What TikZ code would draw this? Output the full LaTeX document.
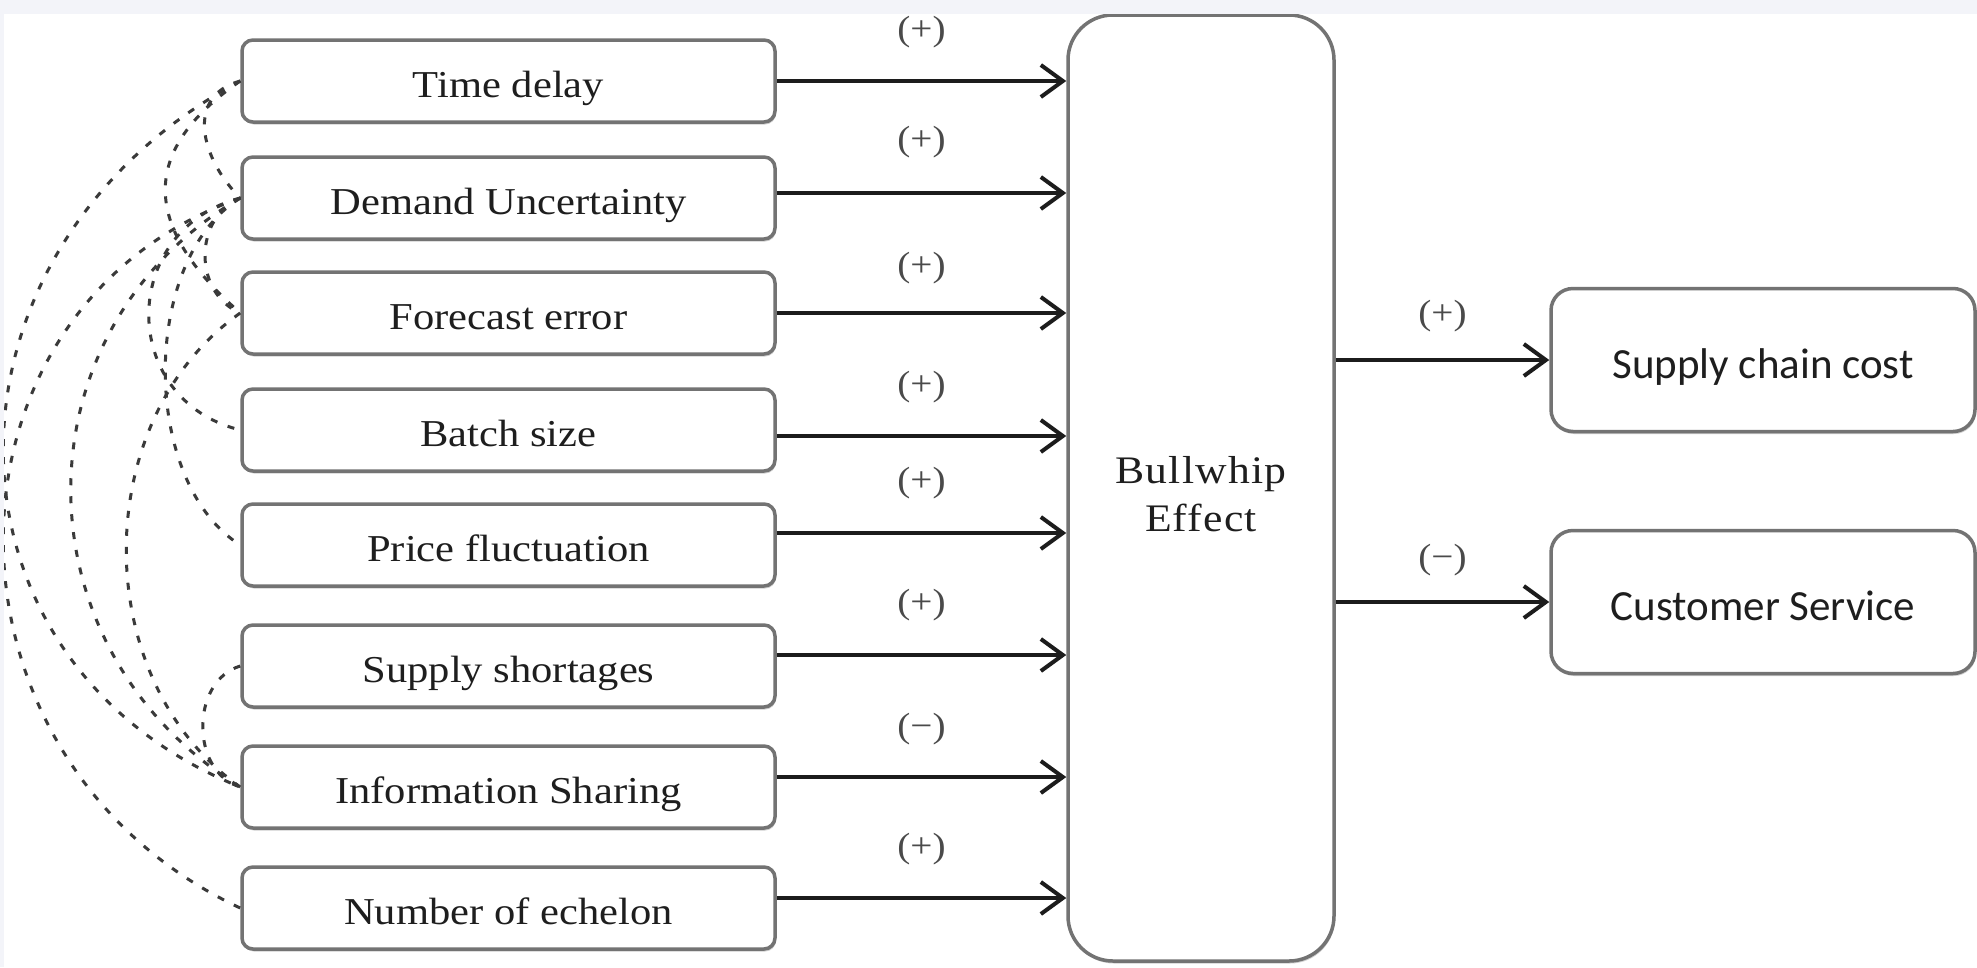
\documentclass[tikz,border=0pt]{standalone}
\usepackage{fontspec}
\setmainfont{Liberation Serif}[FakeStretch=1.12]
\newfontfamily\rfont{Carlito}
\usetikzlibrary{arrows.meta,shadows}
\definecolor{boxc}{HTML}{737373}
\definecolor{txt}{HTML}{1E1E1E}
\definecolor{arrc}{HTML}{1C1C1C}
\definecolor{dashc}{HTML}{3A3A3A}
\definecolor{labc}{HTML}{4A4A4A}
\definecolor{bandc}{HTML}{F3F4F9}
\definecolor{shadc}{HTML}{CFCFCF}
\begin{document}
\begin{tikzpicture}[x=1pt,y=-1pt,
 shad/.style={drop shadow={shadow xshift=1pt, shadow yshift=-2.5pt, fill=shadc, opacity=1}},
 lbox/.style={draw=boxc, fill=white, shad, line width=3.5pt, rounded corners=11pt, minimum width=533pt, minimum height=82pt, inner sep=0pt, text height=35pt, text depth=3pt, text=txt, font=\fontsize{38}{44}\selectfont},
 rbox/.style={draw=boxc, fill=white, shad, line width=3.5pt, rounded corners=22pt, minimum width=424pt, minimum height=143pt, inner sep=0pt, text height=38pt, text depth=2pt, text=txt, font=\rfont\fontsize{43}{50}\selectfont},
 bwbox/.style={draw=boxc, fill=white, shad, line width=3.5pt, rounded corners=45pt, minimum width=266pt, minimum height=946pt, inner sep=0pt},
 bwtext/.style={text=txt, align=center, inner sep=0pt, font=\fontsize{39}{48}\selectfont\addfontfeature{LetterSpace=3}},
 arr/.style={draw=arrc, line width=4pt, -{Straight Barb[length=22pt,width=32pt]}},
 lab/.style={text=labc, font=\fontsize{35}{40}\selectfont, inner sep=0pt},
 corr/.style={draw=dashc, line width=3pt, dash pattern=on 7pt off 11pt},
]
\useasboundingbox (0,0) rectangle (1977,967);
\fill[white] (0,0) rectangle (1977,967);

% left boxes
\node[lbox] (td) at (508.5,81) {Time delay};
\node[lbox] (du) at (508.5,198) {Demand Uncertainty};
\node[lbox] (fe) at (508.5,313) {Forecast error};
\node[lbox] (bs) at (508.5,430) {Batch size};
\node[lbox] (pf) at (508.5,545) {Price fluctuation};
\node[lbox] (ss) at (508.5,666) {Supply shortages};
\node[lbox] (is) at (508.5,787) {Information Sharing};
\node[lbox] (ne) at (508.5,908) {Number of echelon};

% central box and its text
\node[bwbox] (bw) at (1201,488) {};
\node[bwtext] (bwt) at ([yshift=-6pt]bw.center) {Bullwhip\\Effect};

% right boxes
\node[rbox] (sc) at (1763,360) {Supply chain cost};
\node[rbox] (cs) at (1763,602) {Customer Service};

% arrow start points
\coordinate (a1) at ([yshift=0pt]td.east);
\coordinate (a2) at ([yshift=5pt]du.east);
\coordinate (a3) at ([yshift=0pt]fe.east);
\coordinate (a4) at ([yshift=-6pt]bs.east);
\coordinate (a5) at ([yshift=12pt]pf.east);
\coordinate (a6) at ([yshift=11pt]ss.east);
\coordinate (a7) at ([yshift=10pt]is.east);
\coordinate (a8) at ([yshift=10pt]ne.east);

\draw[arr] (a1) -- (a1 -| bw.west) node[lab, midway, yshift=49pt] {(+)};
\draw[arr] (a2) -- (a2 -| bw.west) node[lab, midway, yshift=51pt] {(+)};
\draw[arr] (a3) -- (a3 -| bw.west) node[lab, midway, yshift=45pt] {(+)};
\draw[arr] (a4) -- (a4 -| bw.west) node[lab, midway, yshift=49pt] {(+)};
\draw[arr] (a5) -- (a5 -| bw.west) node[lab, midway, yshift=50pt] {(+)};
\draw[arr] (a6) -- (a6 -| bw.west) node[lab, midway, yshift=50pt] {(+)};
\draw[arr] (a7) -- (a7 -| bw.west) node[lab, midway, yshift=48pt] {(−)};
\draw[arr] (a8) -- (a8 -| bw.west) node[lab, midway, yshift=49pt] {(+)};

% right arrows
\coordinate (b1) at (sc.west -| bw.east);
\coordinate (b2) at (cs.west -| bw.east);
\draw[arr] (b1) -- (sc.west) node[lab, midway, yshift=44pt] {(+)};
\draw[arr] (b2) -- (cs.west) node[lab, midway, yshift=42pt] {(−)};

% dashed correlation curves
\draw[corr] (td.west) .. controls +(-55,15) and +(-40,-40) .. (du.west);
\draw[corr] (du.west) .. controls +(-47,20) and +(-47,-20) .. (fe.west);
\draw[corr] (td.west) .. controls +(-100,69) and +(-100,-88) .. (fe.west);
\draw[corr] (du.west) .. controls +(-122,32) and +(-122,-30) .. (bs.west);
\draw[corr] (du.west) .. controls +(-100,62) and +(-100,-63) .. (pf.west);
\draw[corr] (fe.west) .. controls +(-152,107) and +(-152,-107) .. (is.west);
\draw[corr] (du.west) .. controls +(-226,132) and +(-226,-139) .. (is.west);
\draw[corr] (td.west) .. controls +(-316,169) and +(-316,-127) .. (is.west);
\draw[corr] (du.west) .. controls +(-316,112) and +(-316,-148) .. (ne.west);
\draw[corr] (ss.west) .. controls +(-50,15) and +(-50,-15) .. (is.west);

% faint bands along the top and left edges
\fill[bandc] (0,0) rectangle (1977,14);
\fill[bandc] (0,0) rectangle (4,967);
\end{tikzpicture}
\end{document}
